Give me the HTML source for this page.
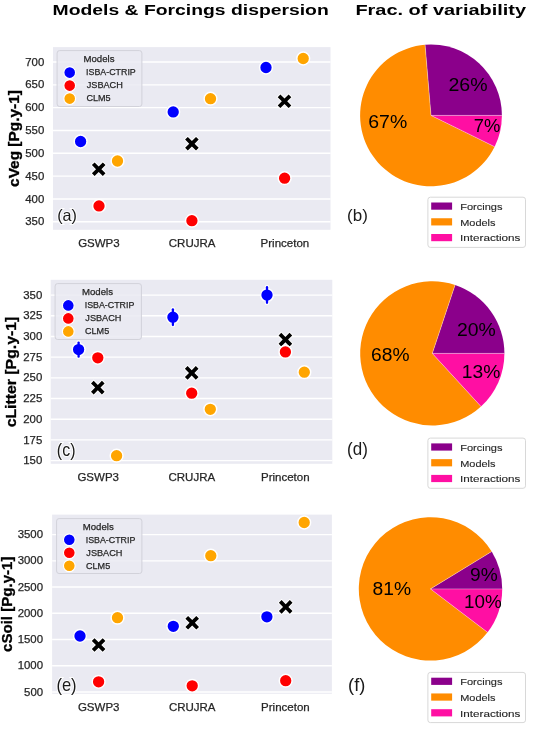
<!DOCTYPE html>
<html><head><meta charset="utf-8"><style>
html,body{margin:0;padding:0;background:#fff;}
svg{display:block;will-change:transform;filter:blur(0.3px);}
</style></head><body>
<svg width="533" height="729" viewBox="0 0 533 729" font-family='"Liberation Sans", sans-serif'>
<rect width="533" height="729" fill="#fff"/>
<text x="52.64" y="15.00" font-size="15" font-weight="bold" fill="#000" textLength="276.12" lengthAdjust="spacingAndGlyphs" >Models &amp; Forcings dispersion</text>
<text x="355.40" y="15.00" font-size="15" font-weight="bold" fill="#000" textLength="170.67" lengthAdjust="spacingAndGlyphs" >Frac. of variability</text>
<rect x="53.0" y="47.1" width="277.50" height="182.70" fill="#eaeaf2"/>
<line x1="53.0" x2="330.5" y1="221.8" y2="221.8" stroke="#fff" stroke-width="1.4"/>
<line x1="53.0" x2="330.5" y1="198.97" y2="198.97" stroke="#fff" stroke-width="1.4"/>
<line x1="53.0" x2="330.5" y1="176.14" y2="176.14" stroke="#fff" stroke-width="1.4"/>
<line x1="53.0" x2="330.5" y1="153.31" y2="153.31" stroke="#fff" stroke-width="1.4"/>
<line x1="53.0" x2="330.5" y1="130.49" y2="130.49" stroke="#fff" stroke-width="1.4"/>
<line x1="53.0" x2="330.5" y1="107.66" y2="107.66" stroke="#fff" stroke-width="1.4"/>
<line x1="53.0" x2="330.5" y1="84.83" y2="84.83" stroke="#fff" stroke-width="1.4"/>
<line x1="53.0" x2="330.5" y1="62.0" y2="62.0" stroke="#fff" stroke-width="1.4"/>
<text x="25.27" y="225.43" font-size="11.4" font-weight="normal" fill="#262626" textLength="19.02" lengthAdjust="spacingAndGlyphs" stroke="#262626" stroke-width="0.25">350</text>
<text x="25.27" y="202.60" font-size="11.4" font-weight="normal" fill="#262626" textLength="19.02" lengthAdjust="spacingAndGlyphs" stroke="#262626" stroke-width="0.25">400</text>
<text x="25.27" y="179.77" font-size="11.4" font-weight="normal" fill="#262626" textLength="19.02" lengthAdjust="spacingAndGlyphs" stroke="#262626" stroke-width="0.25">450</text>
<text x="25.27" y="156.94" font-size="11.4" font-weight="normal" fill="#262626" textLength="19.02" lengthAdjust="spacingAndGlyphs" stroke="#262626" stroke-width="0.25">500</text>
<text x="25.27" y="134.12" font-size="11.4" font-weight="normal" fill="#262626" textLength="19.02" lengthAdjust="spacingAndGlyphs" stroke="#262626" stroke-width="0.25">550</text>
<text x="25.27" y="111.29" font-size="11.4" font-weight="normal" fill="#262626" textLength="19.02" lengthAdjust="spacingAndGlyphs" stroke="#262626" stroke-width="0.25">600</text>
<text x="25.27" y="88.46" font-size="11.4" font-weight="normal" fill="#262626" textLength="19.02" lengthAdjust="spacingAndGlyphs" stroke="#262626" stroke-width="0.25">650</text>
<text x="25.27" y="65.63" font-size="11.4" font-weight="normal" fill="#262626" textLength="19.02" lengthAdjust="spacingAndGlyphs" stroke="#262626" stroke-width="0.25">700</text>
<rect x="57.1" y="50.6" width="84.80" height="55.90" rx="2.5" fill="#eaeaf2" fill-opacity="0.85" stroke="#d2d2da" stroke-width="1"/>
<text x="83.50" y="62.30" font-size="9.6" font-weight="normal" fill="#262626" text-anchor="start" stroke="#262626" stroke-width="0.25">Models</text>
<circle cx="69.7" cy="72.6" r="5.9" fill="#0000ff" stroke="#fff" stroke-width="1.2"/>
<text x="86.10" y="75.40" font-size="9.5" font-weight="normal" fill="#262626" textLength="49.66" lengthAdjust="spacingAndGlyphs" stroke="#262626" stroke-width="0.25">ISBA-CTRIP</text>
<circle cx="69.7" cy="85.6" r="5.9" fill="#ff0000" stroke="#fff" stroke-width="1.2"/>
<text x="86.76" y="88.40" font-size="9.5" font-weight="normal" fill="#262626" textLength="36.07" lengthAdjust="spacingAndGlyphs" stroke="#262626" stroke-width="0.25">JSBACH</text>
<circle cx="69.7" cy="98.6" r="5.9" fill="#ffa500" stroke="#fff" stroke-width="1.2"/>
<text x="86.45" y="101.40" font-size="9.5" font-weight="normal" fill="#262626" textLength="24.14" lengthAdjust="spacingAndGlyphs" stroke="#262626" stroke-width="0.25">CLM5</text>
<text x="98.90" y="247.20" font-size="11.5" font-weight="normal" fill="#262626" text-anchor="middle" stroke="#262626" stroke-width="0.25">GSWP3</text>
<text x="192.10" y="247.20" font-size="11.5" font-weight="normal" fill="#262626" text-anchor="middle" stroke="#262626" stroke-width="0.25">CRUJRA</text>
<text x="284.90" y="247.20" font-size="11.5" font-weight="normal" fill="#262626" text-anchor="middle" stroke="#262626" stroke-width="0.25">Princeton</text>
<circle cx="80.6" cy="141.5" r="6.4" fill="#0000ff" stroke="#fff" stroke-width="1.5"/>
<circle cx="99" cy="205.9" r="6.4" fill="#ff0000" stroke="#fff" stroke-width="1.5"/>
<circle cx="117.5" cy="161" r="6.4" fill="#ffa500" stroke="#fff" stroke-width="1.5"/>
<path d="M102.81,162.40L105.50,165.09L101.39,169.20L105.50,173.31L102.81,176.00L98.70,171.89L94.59,176.00L91.90,173.31L96.01,169.20L91.90,165.09L94.59,162.40L98.70,166.51Z" fill="#000" stroke="#fff" stroke-width="1.8" stroke-linejoin="miter" paint-order="stroke"/>
<circle cx="173.2" cy="111.9" r="6.4" fill="#0000ff" stroke="#fff" stroke-width="1.5"/>
<circle cx="191.9" cy="220.7" r="6.4" fill="#ff0000" stroke="#fff" stroke-width="1.5"/>
<circle cx="210.5" cy="98.7" r="6.4" fill="#ffa500" stroke="#fff" stroke-width="1.5"/>
<path d="M196.01,136.90L198.70,139.59L194.59,143.70L198.70,147.81L196.01,150.50L191.90,146.39L187.79,150.50L185.10,147.81L189.21,143.70L185.10,139.59L187.79,136.90L191.90,141.01Z" fill="#000" stroke="#fff" stroke-width="1.8" stroke-linejoin="miter" paint-order="stroke"/>
<circle cx="266" cy="67.5" r="6.4" fill="#0000ff" stroke="#fff" stroke-width="1.5"/>
<circle cx="284.6" cy="178.2" r="6.4" fill="#ff0000" stroke="#fff" stroke-width="1.5"/>
<circle cx="303.2" cy="58.5" r="6.4" fill="#ffa500" stroke="#fff" stroke-width="1.5"/>
<path d="M288.61,94.50L291.30,97.19L287.19,101.30L291.30,105.41L288.61,108.10L284.50,103.99L280.39,108.10L277.70,105.41L281.81,101.30L277.70,97.19L280.39,94.50L284.50,98.61Z" fill="#000" stroke="#fff" stroke-width="1.8" stroke-linejoin="miter" paint-order="stroke"/>
<text x="57.23" y="221.41" font-size="17.11229946524064" font-weight="normal" fill="#1a1a1a" textLength="19.78" lengthAdjust="spacingAndGlyphs" stroke="#fff" stroke-width="2.2" paint-order="stroke" stroke-opacity="0.9">(a)</text>
<text transform="translate(18.90,186.92) rotate(-90)" x="0" y="0" font-size="13.8" font-weight="bold" fill="#000" stroke="#000" stroke-width="0.3" textLength="96.84" lengthAdjust="spacingAndGlyphs">cVeg [Pg.y-1]</text>
<rect x="50.7" y="279.8" width="281.60" height="184.00" fill="#eaeaf2"/>
<line x1="50.7" x2="332.3" y1="460.6" y2="460.6" stroke="#fff" stroke-width="1.4"/>
<line x1="50.7" x2="332.3" y1="439.91" y2="439.91" stroke="#fff" stroke-width="1.4"/>
<line x1="50.7" x2="332.3" y1="419.23" y2="419.23" stroke="#fff" stroke-width="1.4"/>
<line x1="50.7" x2="332.3" y1="398.54" y2="398.54" stroke="#fff" stroke-width="1.4"/>
<line x1="50.7" x2="332.3" y1="377.85" y2="377.85" stroke="#fff" stroke-width="1.4"/>
<line x1="50.7" x2="332.3" y1="357.16" y2="357.16" stroke="#fff" stroke-width="1.4"/>
<line x1="50.7" x2="332.3" y1="336.48" y2="336.48" stroke="#fff" stroke-width="1.4"/>
<line x1="50.7" x2="332.3" y1="315.79" y2="315.79" stroke="#fff" stroke-width="1.4"/>
<line x1="50.7" x2="332.3" y1="295.1" y2="295.1" stroke="#fff" stroke-width="1.4"/>
<text x="23.27" y="464.23" font-size="11.4" font-weight="normal" fill="#262626" textLength="19.02" lengthAdjust="spacingAndGlyphs" stroke="#262626" stroke-width="0.25">150</text>
<text x="23.27" y="443.54" font-size="11.4" font-weight="normal" fill="#262626" textLength="19.02" lengthAdjust="spacingAndGlyphs" stroke="#262626" stroke-width="0.25">175</text>
<text x="23.27" y="422.86" font-size="11.4" font-weight="normal" fill="#262626" textLength="19.02" lengthAdjust="spacingAndGlyphs" stroke="#262626" stroke-width="0.25">200</text>
<text x="23.27" y="402.17" font-size="11.4" font-weight="normal" fill="#262626" textLength="19.02" lengthAdjust="spacingAndGlyphs" stroke="#262626" stroke-width="0.25">225</text>
<text x="23.27" y="381.48" font-size="11.4" font-weight="normal" fill="#262626" textLength="19.02" lengthAdjust="spacingAndGlyphs" stroke="#262626" stroke-width="0.25">250</text>
<text x="23.27" y="360.79" font-size="11.4" font-weight="normal" fill="#262626" textLength="19.02" lengthAdjust="spacingAndGlyphs" stroke="#262626" stroke-width="0.25">275</text>
<text x="23.27" y="340.11" font-size="11.4" font-weight="normal" fill="#262626" textLength="19.02" lengthAdjust="spacingAndGlyphs" stroke="#262626" stroke-width="0.25">300</text>
<text x="23.27" y="319.42" font-size="11.4" font-weight="normal" fill="#262626" textLength="19.02" lengthAdjust="spacingAndGlyphs" stroke="#262626" stroke-width="0.25">325</text>
<text x="23.27" y="298.73" font-size="11.4" font-weight="normal" fill="#262626" textLength="19.02" lengthAdjust="spacingAndGlyphs" stroke="#262626" stroke-width="0.25">350</text>
<rect x="55.1" y="283.6" width="86.30" height="55.90" rx="2.5" fill="#eaeaf2" fill-opacity="0.85" stroke="#d2d2da" stroke-width="1"/>
<text x="82.00" y="295.30" font-size="9.6" font-weight="normal" fill="#262626" text-anchor="start" stroke="#262626" stroke-width="0.25">Models</text>
<circle cx="68.3" cy="305.4" r="5.9" fill="#0000ff" stroke="#fff" stroke-width="1.2"/>
<text x="84.70" y="308.20" font-size="9.5" font-weight="normal" fill="#262626" textLength="49.66" lengthAdjust="spacingAndGlyphs" stroke="#262626" stroke-width="0.25">ISBA-CTRIP</text>
<circle cx="68.3" cy="318.4" r="5.9" fill="#ff0000" stroke="#fff" stroke-width="1.2"/>
<text x="85.36" y="321.20" font-size="9.5" font-weight="normal" fill="#262626" textLength="36.07" lengthAdjust="spacingAndGlyphs" stroke="#262626" stroke-width="0.25">JSBACH</text>
<circle cx="68.3" cy="331.4" r="5.9" fill="#ffa500" stroke="#fff" stroke-width="1.2"/>
<text x="85.05" y="334.20" font-size="9.5" font-weight="normal" fill="#262626" textLength="24.14" lengthAdjust="spacingAndGlyphs" stroke="#262626" stroke-width="0.25">CLM5</text>
<text x="98.20" y="481.20" font-size="11.5" font-weight="normal" fill="#262626" text-anchor="middle" stroke="#262626" stroke-width="0.25">GSWP3</text>
<text x="191.80" y="481.20" font-size="11.5" font-weight="normal" fill="#262626" text-anchor="middle" stroke="#262626" stroke-width="0.25">CRUJRA</text>
<text x="285.30" y="481.20" font-size="11.5" font-weight="normal" fill="#262626" text-anchor="middle" stroke="#262626" stroke-width="0.25">Princeton</text>
<line x1="78.6" x2="78.6" y1="342.6" y2="356.7" stroke="#fff" stroke-width="4.6" stroke-linecap="round"/>
<circle cx="78.6" cy="349.6" r="6.4" fill="#0000ff" stroke="#fff" stroke-width="1.5"/>
<line x1="78.6" x2="78.6" y1="342.6" y2="356.7" stroke="#0000ff" stroke-width="2.3" stroke-linecap="round"/>
<circle cx="97.8" cy="357.8" r="6.4" fill="#ff0000" stroke="#fff" stroke-width="1.5"/>
<path d="M101.91,380.80L104.60,383.49L100.49,387.60L104.60,391.71L101.91,394.40L97.80,390.29L93.69,394.40L91.00,391.71L95.11,387.60L91.00,383.49L93.69,380.80L97.80,384.91Z" fill="#000" stroke="#fff" stroke-width="1.8" stroke-linejoin="miter" paint-order="stroke"/>
<circle cx="116.6" cy="455.7" r="6.4" fill="#ffa500" stroke="#fff" stroke-width="1.5"/>
<line x1="172.9" x2="172.9" y1="309.3" y2="325.0" stroke="#fff" stroke-width="4.6" stroke-linecap="round"/>
<circle cx="172.9" cy="317.2" r="6.4" fill="#0000ff" stroke="#fff" stroke-width="1.5"/>
<line x1="172.9" x2="172.9" y1="309.3" y2="325.0" stroke="#0000ff" stroke-width="2.3" stroke-linecap="round"/>
<path d="M195.81,366.10L198.50,368.79L194.39,372.90L198.50,377.01L195.81,379.70L191.70,375.59L187.59,379.70L184.90,377.01L189.01,372.90L184.90,368.79L187.59,366.10L191.70,370.21Z" fill="#000" stroke="#fff" stroke-width="1.8" stroke-linejoin="miter" paint-order="stroke"/>
<circle cx="191.7" cy="393.2" r="6.4" fill="#ff0000" stroke="#fff" stroke-width="1.5"/>
<circle cx="210.3" cy="409.3" r="6.4" fill="#ffa500" stroke="#fff" stroke-width="1.5"/>
<line x1="267.0" x2="267.0" y1="287.20000000000005" y2="302.79999999999995" stroke="#fff" stroke-width="4.6" stroke-linecap="round"/>
<circle cx="267.0" cy="295.1" r="6.4" fill="#0000ff" stroke="#fff" stroke-width="1.5"/>
<line x1="267.0" x2="267.0" y1="287.20000000000005" y2="302.79999999999995" stroke="#0000ff" stroke-width="2.3" stroke-linecap="round"/>
<path d="M289.51,332.80L292.20,335.49L288.09,339.60L292.20,343.71L289.51,346.40L285.40,342.29L281.29,346.40L278.60,343.71L282.71,339.60L278.60,335.49L281.29,332.80L285.40,336.91Z" fill="#000" stroke="#fff" stroke-width="1.8" stroke-linejoin="miter" paint-order="stroke"/>
<circle cx="285.4" cy="351.9" r="6.4" fill="#ff0000" stroke="#fff" stroke-width="1.5"/>
<circle cx="304.3" cy="372.2" r="6.4" fill="#ffa500" stroke="#fff" stroke-width="1.5"/>
<text x="56.84" y="455.54" font-size="17.433155080213915" font-weight="normal" fill="#1a1a1a" textLength="18.64" lengthAdjust="spacingAndGlyphs" stroke="#fff" stroke-width="2.2" paint-order="stroke" stroke-opacity="0.9">(c)</text>
<text transform="translate(16.40,427.33) rotate(-90)" x="0" y="0" font-size="13.8" font-weight="bold" fill="#000" stroke="#000" stroke-width="0.3" textLength="110.62" lengthAdjust="spacingAndGlyphs">cLitter [Pg.y-1]</text>
<rect x="52.1" y="514.6" width="279.80" height="179.20" fill="#eaeaf2"/>
<line x1="52.1" x2="331.9" y1="692.0" y2="692.0" stroke="#fff" stroke-width="1.4"/>
<line x1="52.1" x2="331.9" y1="665.77" y2="665.77" stroke="#fff" stroke-width="1.4"/>
<line x1="52.1" x2="331.9" y1="639.53" y2="639.53" stroke="#fff" stroke-width="1.4"/>
<line x1="52.1" x2="331.9" y1="613.3" y2="613.3" stroke="#fff" stroke-width="1.4"/>
<line x1="52.1" x2="331.9" y1="587.07" y2="587.07" stroke="#fff" stroke-width="1.4"/>
<line x1="52.1" x2="331.9" y1="560.83" y2="560.83" stroke="#fff" stroke-width="1.4"/>
<line x1="52.1" x2="331.9" y1="534.6" y2="534.6" stroke="#fff" stroke-width="1.4"/>
<text x="24.08" y="695.63" font-size="11.4" font-weight="normal" fill="#262626" textLength="19.02" lengthAdjust="spacingAndGlyphs" stroke="#262626" stroke-width="0.25">500</text>
<text x="17.69" y="669.40" font-size="11.4" font-weight="normal" fill="#262626" textLength="25.36" lengthAdjust="spacingAndGlyphs" stroke="#262626" stroke-width="0.25">1000</text>
<text x="17.69" y="643.16" font-size="11.4" font-weight="normal" fill="#262626" textLength="25.36" lengthAdjust="spacingAndGlyphs" stroke="#262626" stroke-width="0.25">1500</text>
<text x="17.69" y="616.93" font-size="11.4" font-weight="normal" fill="#262626" textLength="25.36" lengthAdjust="spacingAndGlyphs" stroke="#262626" stroke-width="0.25">2000</text>
<text x="17.69" y="590.70" font-size="11.4" font-weight="normal" fill="#262626" textLength="25.36" lengthAdjust="spacingAndGlyphs" stroke="#262626" stroke-width="0.25">2500</text>
<text x="17.69" y="564.46" font-size="11.4" font-weight="normal" fill="#262626" textLength="25.36" lengthAdjust="spacingAndGlyphs" stroke="#262626" stroke-width="0.25">3000</text>
<text x="17.69" y="538.23" font-size="11.4" font-weight="normal" fill="#262626" textLength="25.36" lengthAdjust="spacingAndGlyphs" stroke="#262626" stroke-width="0.25">3500</text>
<rect x="56.6" y="518.6" width="85.30" height="54.90" rx="2.5" fill="#eaeaf2" fill-opacity="0.85" stroke="#d2d2da" stroke-width="1"/>
<text x="82.80" y="529.80" font-size="9.6" font-weight="normal" fill="#262626" text-anchor="start" stroke="#262626" stroke-width="0.25">Models</text>
<circle cx="69.3" cy="539.8" r="5.9" fill="#0000ff" stroke="#fff" stroke-width="1.2"/>
<text x="85.70" y="542.60" font-size="9.5" font-weight="normal" fill="#262626" textLength="49.66" lengthAdjust="spacingAndGlyphs" stroke="#262626" stroke-width="0.25">ISBA-CTRIP</text>
<circle cx="69.3" cy="552.8" r="5.9" fill="#ff0000" stroke="#fff" stroke-width="1.2"/>
<text x="86.36" y="555.60" font-size="9.5" font-weight="normal" fill="#262626" textLength="36.07" lengthAdjust="spacingAndGlyphs" stroke="#262626" stroke-width="0.25">JSBACH</text>
<circle cx="69.3" cy="565.8" r="5.9" fill="#ffa500" stroke="#fff" stroke-width="1.2"/>
<text x="86.05" y="568.60" font-size="9.5" font-weight="normal" fill="#262626" textLength="24.14" lengthAdjust="spacingAndGlyphs" stroke="#262626" stroke-width="0.25">CLM5</text>
<text x="98.70" y="711.20" font-size="11.5" font-weight="normal" fill="#262626" text-anchor="middle" stroke="#262626" stroke-width="0.25">GSWP3</text>
<text x="192.20" y="711.20" font-size="11.5" font-weight="normal" fill="#262626" text-anchor="middle" stroke="#262626" stroke-width="0.25">CRUJRA</text>
<text x="285.40" y="711.20" font-size="11.5" font-weight="normal" fill="#262626" text-anchor="middle" stroke="#262626" stroke-width="0.25">Princeton</text>
<circle cx="117.5" cy="617.7" r="6.4" fill="#ffa500" stroke="#fff" stroke-width="1.5"/>
<circle cx="80" cy="636" r="6.4" fill="#0000ff" stroke="#fff" stroke-width="1.5"/>
<path d="M102.71,638.20L105.40,640.89L101.29,645.00L105.40,649.11L102.71,651.80L98.60,647.69L94.49,651.80L91.80,649.11L95.91,645.00L91.80,640.89L94.49,638.20L98.60,642.31Z" fill="#000" stroke="#fff" stroke-width="1.8" stroke-linejoin="miter" paint-order="stroke"/>
<circle cx="98.6" cy="681.8" r="6.4" fill="#ff0000" stroke="#fff" stroke-width="1.5"/>
<circle cx="210.8" cy="555.7" r="6.4" fill="#ffa500" stroke="#fff" stroke-width="1.5"/>
<circle cx="173.3" cy="626.3" r="6.4" fill="#0000ff" stroke="#fff" stroke-width="1.5"/>
<path d="M196.31,616.00L199.00,618.69L194.89,622.80L199.00,626.91L196.31,629.60L192.20,625.49L188.09,629.60L185.40,626.91L189.51,622.80L185.40,618.69L188.09,616.00L192.20,620.11Z" fill="#000" stroke="#fff" stroke-width="1.8" stroke-linejoin="miter" paint-order="stroke"/>
<circle cx="192.2" cy="685.8" r="6.4" fill="#ff0000" stroke="#fff" stroke-width="1.5"/>
<circle cx="304.2" cy="522.5" r="6.4" fill="#ffa500" stroke="#fff" stroke-width="1.5"/>
<circle cx="266.9" cy="616.8" r="6.4" fill="#0000ff" stroke="#fff" stroke-width="1.5"/>
<path d="M289.81,600.10L292.50,602.79L288.39,606.90L292.50,611.01L289.81,613.70L285.70,609.59L281.59,613.70L278.90,611.01L283.01,606.90L278.90,602.79L281.59,600.10L285.70,604.21Z" fill="#000" stroke="#fff" stroke-width="1.8" stroke-linejoin="miter" paint-order="stroke"/>
<circle cx="285.7" cy="680.7" r="6.4" fill="#ff0000" stroke="#fff" stroke-width="1.5"/>
<text x="56.41" y="691.15" font-size="17.860962566844847" font-weight="normal" fill="#1a1a1a" textLength="20.22" lengthAdjust="spacingAndGlyphs" stroke="#fff" stroke-width="2.2" paint-order="stroke" stroke-opacity="0.9">(e)</text>
<text transform="translate(11.90,651.90) rotate(-90)" x="0" y="0" font-size="13.8" font-weight="bold" fill="#000" stroke="#000" stroke-width="0.3" textLength="95.30" lengthAdjust="spacingAndGlyphs">cSoil [Pg.y-1]</text>
<path d="M431.0,115.4L501.90,115.40A70.9,70.9 0 0 0 425.07,44.75Z" fill="#8b008b"/>
<path d="M431.0,115.4L425.07,44.75A70.9,70.9 0 1 0 494.62,146.70Z" fill="#ff8c00"/>
<path d="M431.0,115.4L494.62,146.70A70.9,70.9 0 0 0 501.90,115.40Z" fill="#ff0fa3"/>
<line x1="431.0" y1="115.4" x2="501.90" y2="115.40" stroke="#fff" stroke-opacity="0.45" stroke-width="0.8"/>
<line x1="431.0" y1="115.4" x2="425.07" y2="44.75" stroke="#fff" stroke-opacity="0.45" stroke-width="0.8"/>
<line x1="431.0" y1="115.4" x2="494.62" y2="146.70" stroke="#fff" stroke-opacity="0.45" stroke-width="0.8"/>
<text x="448.42" y="90.80" font-size="18" font-weight="normal" fill="#000" textLength="39.09" lengthAdjust="spacingAndGlyphs" >26%</text>
<text x="473.68" y="132.40" font-size="18" font-weight="normal" fill="#000" textLength="26.57" lengthAdjust="spacingAndGlyphs" >7%</text>
<text x="368.23" y="127.60" font-size="18" font-weight="normal" fill="#000" textLength="38.98" lengthAdjust="spacingAndGlyphs" >67%</text>
<rect x="427.9" y="197.2" width="97.6" height="50.2" rx="2.5" fill="#fff" stroke="#d8d8d8" stroke-width="1"/>
<rect x="431.2" y="202.50" width="20.9" height="7.2" fill="#8b008b"/>
<text x="460.22" y="209.90" font-size="9.8" font-weight="normal" fill="#262626" textLength="42.26" lengthAdjust="spacingAndGlyphs" stroke="#262626" stroke-width="0.12">Forcings</text>
<rect x="431.2" y="218.25" width="20.9" height="7.2" fill="#ff8c00"/>
<text x="460.23" y="225.65" font-size="9.8" font-weight="normal" fill="#262626" textLength="35.24" lengthAdjust="spacingAndGlyphs" stroke="#262626" stroke-width="0.12">Models</text>
<rect x="431.2" y="234.00" width="20.9" height="7.2" fill="#ff0fa3"/>
<text x="460.05" y="241.40" font-size="9.8" font-weight="normal" fill="#262626" textLength="60.35" lengthAdjust="spacingAndGlyphs" stroke="#262626" stroke-width="0.12">Interactions</text>
<text x="347.08" y="221.41" font-size="17.11229946524064" font-weight="normal" fill="#1a1a1a" textLength="20.78" lengthAdjust="spacingAndGlyphs" >(b)</text>
<path d="M432.3,353.4L504.40,353.40A72.1,72.1 0 0 0 455.06,284.99Z" fill="#8b008b"/>
<path d="M432.3,353.4L455.06,284.99A72.1,72.1 0 1 0 481.01,406.56Z" fill="#ff8c00"/>
<path d="M432.3,353.4L481.01,406.56A72.1,72.1 0 0 0 504.40,353.40Z" fill="#ff0fa3"/>
<line x1="432.3" y1="353.4" x2="504.40" y2="353.40" stroke="#fff" stroke-opacity="0.45" stroke-width="0.8"/>
<line x1="432.3" y1="353.4" x2="455.06" y2="284.99" stroke="#fff" stroke-opacity="0.45" stroke-width="0.8"/>
<line x1="432.3" y1="353.4" x2="481.01" y2="406.56" stroke="#fff" stroke-opacity="0.45" stroke-width="0.8"/>
<text x="456.93" y="335.90" font-size="18" font-weight="normal" fill="#000" textLength="38.78" lengthAdjust="spacingAndGlyphs" >20%</text>
<text x="461.76" y="377.70" font-size="18" font-weight="normal" fill="#000" textLength="38.55" lengthAdjust="spacingAndGlyphs" >13%</text>
<text x="371.04" y="360.50" font-size="18" font-weight="normal" fill="#000" textLength="38.46" lengthAdjust="spacingAndGlyphs" >68%</text>
<rect x="427.9" y="438.1" width="97.6" height="50.2" rx="2.5" fill="#fff" stroke="#d8d8d8" stroke-width="1"/>
<rect x="431.2" y="443.40" width="20.9" height="7.2" fill="#8b008b"/>
<text x="460.22" y="450.80" font-size="9.8" font-weight="normal" fill="#262626" textLength="42.26" lengthAdjust="spacingAndGlyphs" stroke="#262626" stroke-width="0.12">Forcings</text>
<rect x="431.2" y="459.15" width="20.9" height="7.2" fill="#ff8c00"/>
<text x="460.23" y="466.55" font-size="9.8" font-weight="normal" fill="#262626" textLength="35.24" lengthAdjust="spacingAndGlyphs" stroke="#262626" stroke-width="0.12">Models</text>
<rect x="431.2" y="474.90" width="20.9" height="7.2" fill="#ff0fa3"/>
<text x="460.05" y="482.30" font-size="9.8" font-weight="normal" fill="#262626" textLength="60.35" lengthAdjust="spacingAndGlyphs" stroke="#262626" stroke-width="0.12">Interactions</text>
<text x="347.08" y="454.64" font-size="17.433155080213915" font-weight="normal" fill="#1a1a1a" textLength="20.78" lengthAdjust="spacingAndGlyphs" >(d)</text>
<path d="M430.5,588.9L502.20,588.90A71.7,71.7 0 0 0 491.70,551.54Z" fill="#8b008b"/>
<path d="M430.5,588.9L491.70,551.54A71.7,71.7 0 1 0 487.54,632.35Z" fill="#ff8c00"/>
<path d="M430.5,588.9L487.54,632.35A71.7,71.7 0 0 0 502.20,588.90Z" fill="#ff0fa3"/>
<line x1="430.5" y1="588.9" x2="502.20" y2="588.90" stroke="#fff" stroke-opacity="0.45" stroke-width="0.8"/>
<line x1="430.5" y1="588.9" x2="491.70" y2="551.54" stroke="#fff" stroke-opacity="0.45" stroke-width="0.8"/>
<line x1="430.5" y1="588.9" x2="487.54" y2="632.35" stroke="#fff" stroke-opacity="0.45" stroke-width="0.8"/>
<text x="470.14" y="581.40" font-size="18" font-weight="normal" fill="#000" textLength="27.64" lengthAdjust="spacingAndGlyphs" >9%</text>
<text x="463.99" y="607.60" font-size="18" font-weight="normal" fill="#000" textLength="37.70" lengthAdjust="spacingAndGlyphs" >10%</text>
<text x="372.63" y="595.00" font-size="18" font-weight="normal" fill="#000" textLength="38.57" lengthAdjust="spacingAndGlyphs" >81%</text>
<rect x="427.9" y="672.4" width="97.6" height="50.2" rx="2.5" fill="#fff" stroke="#d8d8d8" stroke-width="1"/>
<rect x="431.2" y="677.70" width="20.9" height="7.2" fill="#8b008b"/>
<text x="460.22" y="685.10" font-size="9.8" font-weight="normal" fill="#262626" textLength="42.26" lengthAdjust="spacingAndGlyphs" stroke="#262626" stroke-width="0.12">Forcings</text>
<rect x="431.2" y="693.45" width="20.9" height="7.2" fill="#ff8c00"/>
<text x="460.23" y="700.85" font-size="9.8" font-weight="normal" fill="#262626" textLength="35.24" lengthAdjust="spacingAndGlyphs" stroke="#262626" stroke-width="0.12">Models</text>
<rect x="431.2" y="709.20" width="20.9" height="7.2" fill="#ff0fa3"/>
<text x="460.05" y="716.60" font-size="9.8" font-weight="normal" fill="#262626" textLength="60.35" lengthAdjust="spacingAndGlyphs" stroke="#262626" stroke-width="0.12">Interactions</text>
<text x="348.10" y="691.04" font-size="17.433155080213975" font-weight="normal" fill="#1a1a1a" textLength="17.27" lengthAdjust="spacingAndGlyphs" >(f)</text>
</svg>
</body></html>
